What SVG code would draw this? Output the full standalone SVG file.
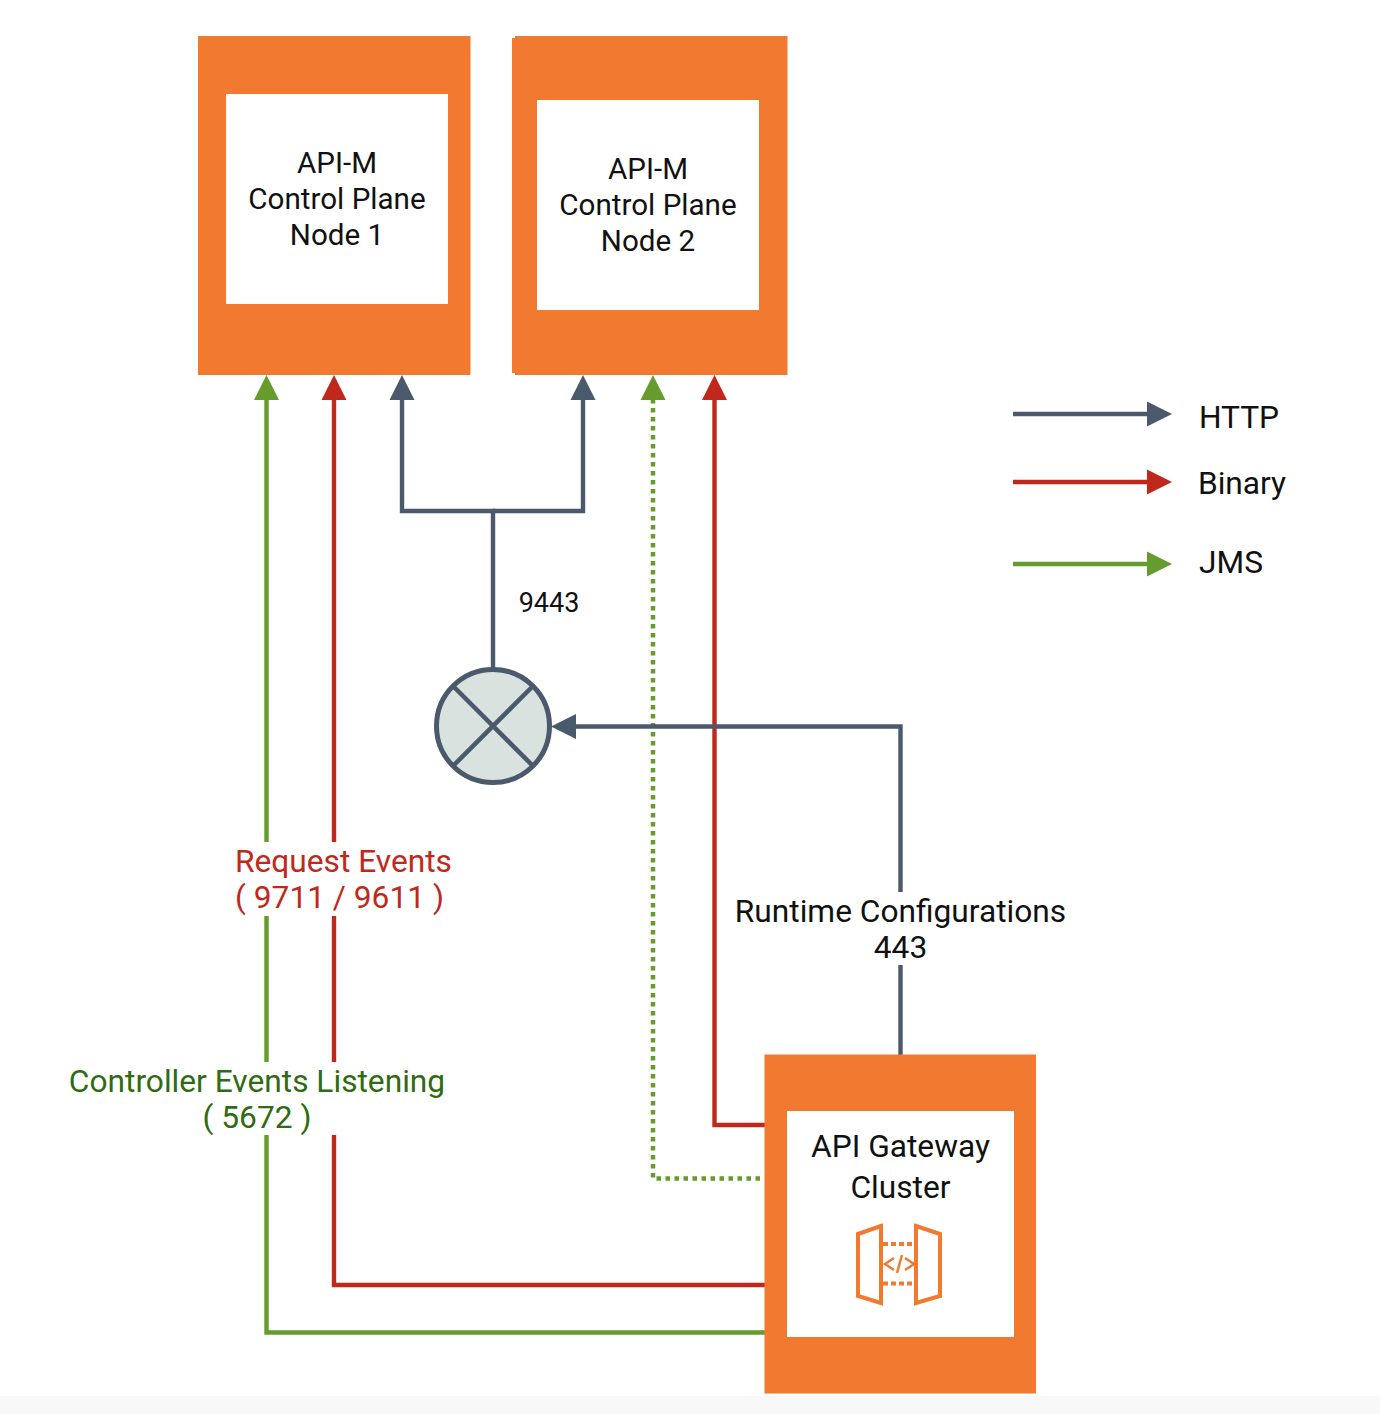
<svg xmlns="http://www.w3.org/2000/svg" width="1380" height="1414" viewBox="0 0 1380 1414">
<style>
text{font-family:Roboto,"Liberation Sans",sans-serif;text-anchor:middle}
.n{font-size:29.600px;fill:#111}
.m{font-size:31.700px}
.o{fill:#f17a30}
.w{fill:#fff}
.l{fill:none;stroke-width:4.400}
.g{stroke:#4a5a6c}.r{stroke:#c0281c}.j{stroke:#659c2d}
.bg{fill:#fff}
</style>
<defs>
<marker id="ag" markerUnits="userSpaceOnUse" markerWidth="26" markerHeight="26" refX="20" refY="13" orient="auto"><path d="M0 0.500L25 13L0 25.500Z" fill="#4a5a6c"/></marker>
<marker id="ar" markerUnits="userSpaceOnUse" markerWidth="26" markerHeight="26" refX="20" refY="13" orient="auto"><path d="M0 0.500L25 13L0 25.500Z" fill="#c0281c"/></marker>
<marker id="aj" markerUnits="userSpaceOnUse" markerWidth="26" markerHeight="26" refX="20" refY="13" orient="auto"><path d="M0 0.500L25 13L0 25.500Z" fill="#659c2d"/></marker>
</defs>
<rect class="bg" width="1380" height="1414"/>
<rect y="1396" width="1380" height="18" fill="#f8f8f8"/>
<g id="connectors">
<path class="l j" marker-end="url(#aj)" d="M766 1332.500H266.500V380"/>
<path class="l r" marker-end="url(#ar)" d="M766 1285H334V380"/>
<path class="l g" marker-end="url(#ag)" d="M493 670V511H402V380"/>
<path class="l g" marker-end="url(#ag)" d="M493 511H583V380"/>
<path class="l j" stroke-dasharray="4.500 4.500" style="stroke-width:4.500" marker-end="url(#aj)" d="M760 1178.500H653V380"/>
<path class="l r" marker-end="url(#ar)" d="M766 1125H714.500V380"/>
<path class="l g" marker-end="url(#ag)" d="M900.500 1056V726.500H556"/>
<path class="l g" marker-end="url(#ag)" d="M1013 414H1167"/>
<path class="l r" marker-end="url(#ar)" d="M1013 482H1167"/>
<path class="l j" marker-end="url(#aj)" d="M1013 564H1167"/>
</g>
<g id="node1">
<rect class="o" x="198" y="36" width="272.500" height="339"/>
<rect class="w" x="226" y="94" width="222" height="210"/>
<text class="n" x="337" y="173">API-M</text>
<text class="n" x="337" y="209">Control Plane</text>
<text class="n" x="337" y="245">Node 1</text>
</g>
<g id="node2">
<path class="o" d="M515 36H787.500V375H515V373H512V38H515Z"/>
<rect class="w" x="537" y="100" width="222" height="210"/>
<text class="n" x="648" y="179">API-M</text>
<text class="n" x="648" y="215">Control Plane</text>
<text class="n" x="648" y="251">Node 2</text>
</g>
<g id="gateway">
<rect class="o" x="764.500" y="1054.500" width="271.500" height="339"/>
<rect class="w" x="787" y="1111" width="227" height="226"/>
<text class="n m" x="900.500" y="1157">API Gateway</text>
<text class="n m" x="900.500" y="1198">Cluster</text>
<g fill="none" stroke="#f17a30" stroke-width="4">
<path d="M881 1226L858 1234V1296L881 1303Z"/>
<path d="M916 1226L940 1234V1296L916 1303Z"/>
<path d="M883 1244H915M883 1283.500H915" stroke-dasharray="5 3"/>
<path stroke-width="2.500" d="M894 1258L885 1264L894 1270M905 1258L914 1264L905 1270M902 1255L897 1273"/>
</g>
</g>
<g id="balancer">
<circle cx="493" cy="726" r="56.500" fill="#d9e2de" stroke="#4a5a6c" stroke-width="5"/>
<path d="M453 686L533 766M533 686L453 766" fill="none" stroke="#4a5a6c" stroke-width="4.500"/>
</g>
<g id="labels">
<rect class="bg" x="234" y="842" width="219" height="74"/>
<text class="m" x="343.500" y="872" fill="#c0281c">Request Events</text>
<text class="m" x="339.500" y="908" fill="#c0281c">( 9711 / 9611 )</text>
<rect class="bg" x="68" y="1062" width="378" height="73"/>
<text class="m" x="257" y="1091.500" fill="#2f6b12">Controller Events Listening</text>
<text class="m" x="257" y="1128" fill="#2f6b12">( 5672 )</text>
<rect class="bg" x="734" y="892" width="333" height="73"/>
<text class="m" x="900.500" y="922" fill="#111">Runtime Configurations</text>
<text class="m" x="900.500" y="958" fill="#111">443</text>
<text x="549" y="612" font-size="27" fill="#111">9443</text>
<text class="m" x="1239" y="428" fill="#111">HTTP</text>
<text class="m" x="1242" y="494" fill="#111">Binary</text>
<text class="m" x="1231" y="573" fill="#111">JMS</text>
</g>
</svg>
